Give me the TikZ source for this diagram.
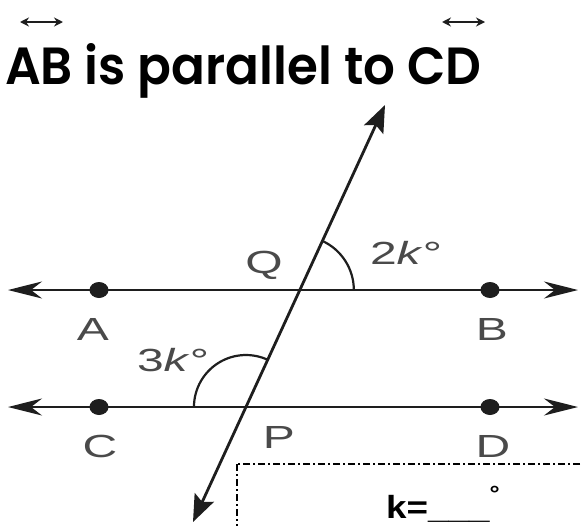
\documentclass[tikz,border=0pt]{standalone}
\usepackage{fontspec}
\setmainfont{Liberation Sans}
\newfontfamily\titlefont{Poppins SemiBold}
\usetikzlibrary{arrows.meta,calc}
\definecolor{ink}{HTML}{1E1E1E}
\definecolor{lab}{HTML}{4A4A4A}
\tikzset{
  parline/.style={line width=2.2pt, draw=ink, {Stealth[length=34pt,width=17pt,inset=11pt]}-{Stealth[length=34pt,width=17pt,inset=11pt]}},
  transline/.style={line width=2.8pt, draw=ink, {Stealth[length=27pt,width=21pt,inset=5pt]}-{Stealth[length=27pt,width=21pt,inset=5pt]}},
  ptdot/.style={fill=ink, draw=none},
  ptlabel/.style={inner sep=0pt, text=lab, font=\fontsize{32}{32}\selectfont, xscale=1.5},
  anglearc/.style={line width=2.2pt, draw=ink},
  titlearrow/.style={line width=2.2pt, draw=ink, {Stealth[length=9pt,width=9pt]}-{Stealth[length=9pt,width=9pt]}},
  answerbox/.style={line width=1.6pt, draw=black, dash pattern=on 7pt off 3pt on 2pt off 3pt}
}
\begin{document}
\begin{tikzpicture}[x=1pt,y=-1pt]
\useasboundingbox (0,0) rectangle (583,525);
\fill[white] (0,0) rectangle (583,525);
\clip (0,0) rectangle (583,525);

% title
\node[inner sep=0pt, anchor=base west] (title) at (5,84)
  {\resizebox{476pt}{41pt}{\titlefont AB is parallel to CD}};
\coordinate (ab1) at (20,22); \coordinate (ab2) at (63,22);
\coordinate (cd1) at (442,22); \coordinate (cd2) at (485,22);
\draw[titlearrow] (ab1) -- (ab2);
\draw[titlearrow] (cd1) -- (cd2);

% lines
\coordinate (ABl) at (8,290); \coordinate (ABr) at (578,290);
\coordinate (CDl) at (8,407); \coordinate (CDr) at (578,407);
\coordinate (Tb) at (193,522); \coordinate (Tt) at (385,105);
\coordinate (Q) at (intersection of ABl--ABr and Tb--Tt);
\coordinate (P) at (intersection of CDl--CDr and Tb--Tt);

\draw[parline] (ABl) -- (ABr);
\draw[parline] (CDl) -- (CDr);
\draw[transline] (Tb) -- (Tt);

% angle arcs
\draw[anglearc] ($(Q)+(54,0)$) arc[start angle=0, end angle=-65.4, radius=54];
\draw[anglearc] ($(P)+(-52,0)$) arc[start angle=-180, end angle=-65.4, radius=52];

% points
\coordinate (A) at (99,290); \coordinate (B) at (490,290);
\coordinate (C) at (99,407); \coordinate (D) at (490,407);
\foreach \p in {A,B,C,D} \fill[ptdot] (\p) ellipse[x radius=9.5, y radius=8];

% labels
\node[ptlabel] (lA) at (93,329) {A};
\node[ptlabel] (lB) at (492,329) {B};
\node[ptlabel] (lC) at (100,446) {C};
\node[ptlabel] (lD) at (493,446) {D};
\node[ptlabel] (lQ) at (264,265) {Q};
\node[ptlabel] (lP) at (279,437) {P};
\node[ptlabel] (l2k) at (406,253) {2\textit{k}°};
\node[ptlabel] (l3k) at (173,360) {3\textit{k}°};

% answer box
\draw[answerbox] (237,464) rectangle (620,560);
\node[inner sep=0pt, anchor=base west, xscale=1.15, font=\fontsize{32}{32}\selectfont\bfseries] (ans) at (386,518)
  {k=\_\_\_\raisebox{17pt}{\fontsize{22}{22}\selectfont °}};
\end{tikzpicture}
\end{document}
